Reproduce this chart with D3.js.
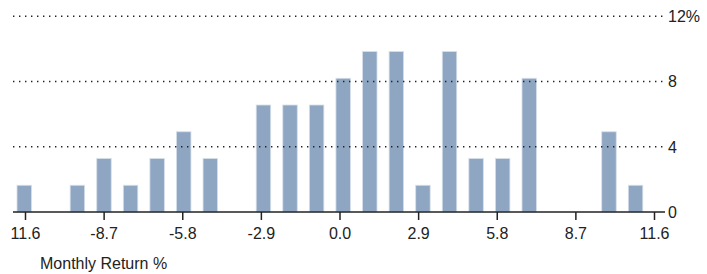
<!DOCTYPE html>
<html lang="en">
<head>
    <meta charset="UTF-8">
    <title>Monthly Return Distribution</title>
    <script src="https://d3js.org/d3.v7.min.js"></script>
    <style>
        body { margin: 0; background: #fff; }
        text {
            font-family: "Liberation Sans Narrow", "Arial Narrow", sans-serif;
            font-size: 16px;
            fill: #222;
        }
        .grid line {
            stroke: #222;
            stroke-width: 1.4px;
            stroke-dasharray: 1.4, 4.6;
        }
        .bar {
            fill: #8fa6c2;
            stroke: #d6dfea;
            stroke-width: 0.8px;
        }
    </style>
</head>
<body>
    <svg width="707" height="274"></svg>
    <script>
        // histogram bins (24 buckets), frequency in % of months
        const bins = d3.range(24);
        const freq = [1.64, 0, 1.64, 3.28, 1.64, 3.28, 4.92, 3.28, 0, 6.56, 6.56, 6.56,
                      8.20, 9.84, 9.84, 1.64, 9.84, 3.28, 3.28, 8.20, 0, 0, 4.92, 1.64];

        const xTicks = [-11.6, -8.7, -5.8, -2.9, 0, 2.9, 5.8, 8.7, 11.6];
        const xTickLabels = ["11.6", "-8.7", "-5.8", "-2.9", "0.0", "2.9", "5.8", "8.7", "11.6"];
        const yTicks = [0, 4, 8, 12];
        const yTickLabels = ["0", "4", "8", "12%"];

        const svg = d3.select("svg");

        const plotLeft = 13, plotRight = 665, base = 212, plotTop = 16.3;

        const x = d3.scaleLinear().domain([-11.6, 11.6]).range([25, 654]);
        const xb = d3.scaleBand().domain(bins).range([17, 642.8])
            .paddingInner(0.455).paddingOuter(0);
        const y = d3.scaleLinear().domain([0, 12]).range([base, plotTop]);

        // bars
        svg.append("g")
            .selectAll("rect")
            .data(bins)
            .enter().append("rect")
            .attr("class", "bar")
            .attr("x", d => xb(d))
            .attr("width", xb.bandwidth())
            .attr("y", d => y(freq[d]))
            .attr("height", d => y(0) - y(freq[d]))
            .style("display", d => freq[d] > 0 ? null : "none");

        // dotted gridlines
        svg.append("g")
            .attr("class", "grid")
            .selectAll("line")
            .data(yTicks.filter(d => d > 0))
            .enter().append("line")
            .attr("x1", plotLeft)
            .attr("x2", plotRight)
            .attr("y1", d => y(d))
            .attr("y2", d => y(d));

        // y labels on the right
        svg.append("g")
            .selectAll("text")
            .data(yTicks)
            .enter().append("text")
            .attr("x", plotRight + 3)
            .attr("y", d => y(d))
            .attr("dy", "0.36em")
            .text((d, i) => yTickLabels[i]);

        // x axis
        const xAxis = d3.axisBottom(x)
            .tickValues(xTicks)
            .tickSize(8)
            .tickFormat((d, i) => xTickLabels[i]);

        const gx = svg.append("g")
            .attr("transform", `translate(0,${base})`)
            .call(xAxis);
        gx.select(".domain").remove();
        gx.selectAll(".tick line").attr("stroke", "#222").attr("stroke-width", 1.5);
        gx.selectAll(".tick text")
            .attr("y", 16)
            .attr("font-family", null)
            .attr("font-size", null)
            .style("fill", "#222");
        gx.attr("font-family", null).attr("font-size", null);

        svg.append("line")
            .attr("x1", plotLeft)
            .attr("x2", plotRight)
            .attr("y1", base)
            .attr("y2", base)
            .attr("stroke", "#222")
            .attr("stroke-width", 1.5);

        svg.append("text")
            .attr("x", 40)
            .attr("y", 269)
            .text("Monthly Return %");
    </script>
</body>
</html>
